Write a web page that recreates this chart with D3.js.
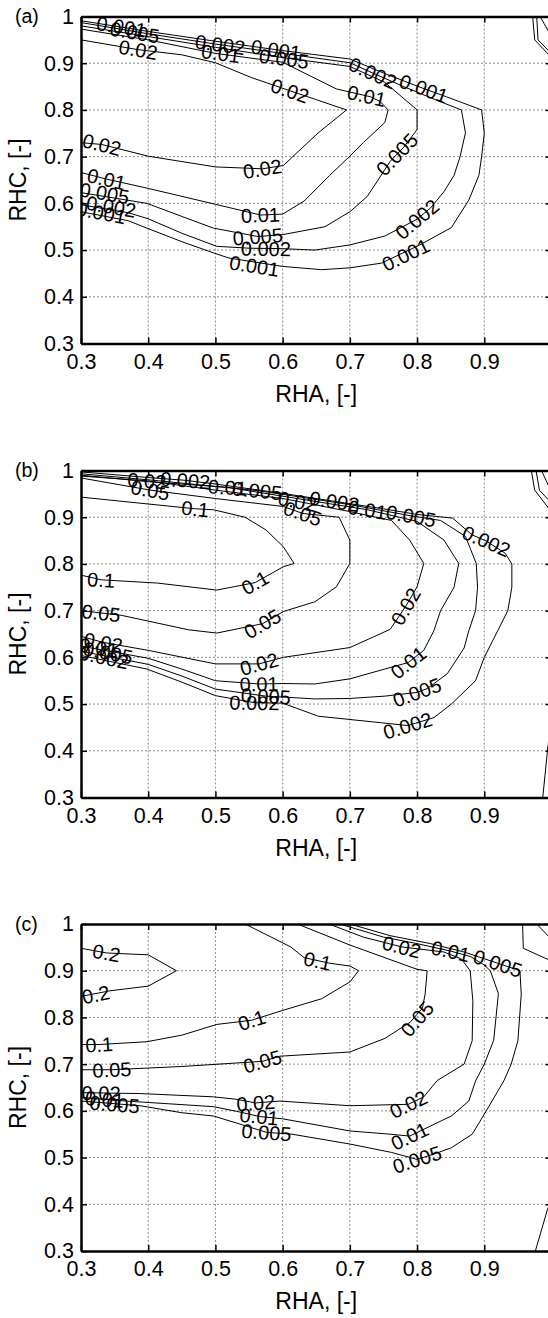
<!DOCTYPE html>
<html>
<head>
<meta charset="utf-8">
<script src="https://cdn.jsdelivr.net/npm/d3@7"></script>
<style>
  body { margin: 0; background: #fff; }
  text { font-family: Arial, "Liberation Sans", sans-serif; fill: #000; }
  .grid line { stroke: #8c8c8c; stroke-width: 1; stroke-dasharray: 2,2; }
  .contour { fill: none; stroke: #000; stroke-width: 1; }
  .clab { font-size: 20px; }
</style>
</head>
<body>
<svg id="svg"></svg>
<script>

// axis setup shared by all three panels (the tick at 1 sits on the cut right edge, so no label there)
const xTicks = [0.3, 0.4, 0.5, 0.6, 0.7, 0.8, 0.9, 1];
const xTickLabels = ["0.3", "0.4", "0.5", "0.6", "0.7", "0.8", "0.9", ""];
const yTicks = [0.3, 0.4, 0.5, 0.6, 0.7, 0.8, 0.9, 1];
const yTickLabels = ["0.3", "0.4", "0.5", "0.6", "0.7", "0.8", "0.9", "1"];
const panelTags = ["(a)", "(b)", "(c)"];
const xTitle = "RHA, [-]";
const yTitle = "RHC, [-]";

// ---- panel (a) : contour lines [RHA, RHC] and label spots
const contoursA = [
  { level: "0.001", pts: [[0.3,0.991],[0.4,0.968],[0.5,0.947],[0.6,0.927],[0.7,0.909],[0.75,0.879],[0.8,0.851],[0.844,0.828],[0.896,0.8],[0.9,0.75],[0.896,0.7],[0.892,0.66],[0.877,0.607],[0.851,0.548],[0.804,0.511],[0.747,0.472],[0.7,0.462],[0.658,0.458],[0.6,0.465],[0.52,0.483],[0.497,0.494],[0.45,0.518],[0.398,0.547],[0.37,0.563],[0.3,0.582]] },
  { level: "0.002", pts: [[0.3,0.987],[0.4,0.963],[0.5,0.941],[0.6,0.921],[0.7,0.901],[0.734,0.879],[0.78,0.85],[0.834,0.818],[0.866,0.8],[0.872,0.751],[0.864,0.7],[0.855,0.66],[0.84,0.625],[0.82,0.59],[0.8,0.566],[0.752,0.53],[0.7,0.511],[0.648,0.5],[0.6,0.503],[0.55,0.504],[0.502,0.508],[0.45,0.536],[0.4,0.567],[0.37,0.58],[0.3,0.597]] },
  { level: "0.005", pts: [[0.3,0.98],[0.4,0.957],[0.5,0.934],[0.6,0.912],[0.7,0.893],[0.752,0.859],[0.8,0.8],[0.8,0.758],[0.78,0.72],[0.76,0.69],[0.742,0.65],[0.726,0.615],[0.7,0.582],[0.663,0.55],[0.6,0.533],[0.563,0.529],[0.497,0.547],[0.45,0.572],[0.398,0.6],[0.3,0.623]] },
  { level: "0.01", pts: [[0.3,0.973],[0.4,0.95],[0.5,0.921],[0.6,0.902],[0.68,0.845],[0.731,0.828],[0.745,0.818],[0.757,0.8],[0.752,0.773],[0.72,0.73],[0.7,0.701],[0.67,0.66],[0.632,0.605],[0.6,0.577],[0.567,0.575],[0.5,0.598],[0.4,0.632],[0.338,0.652],[0.3,0.666]] },
  { level: "0.02", pts: [[0.3,0.95],[0.385,0.929],[0.45,0.918],[0.5,0.901],[0.554,0.869],[0.611,0.841],[0.65,0.822],[0.695,0.8],[0.653,0.751],[0.601,0.681],[0.57,0.674],[0.5,0.678],[0.4,0.701],[0.331,0.726],[0.3,0.73]] },
  { level: "0.001", pts: [[0.972,1.0],[0.975,0.95],[0.998,0.915]] },
  { level: "0.002", pts: [[0.978,1.0],[0.98,0.95],[0.998,0.923]] },
  { level: "0.005", pts: [[0.983,1.0],[0.998,0.962]] }
];
const labelsA = [
  ["0.001", 0.36, 0.978], ["0.005", 0.38, 0.966], ["0.02", 0.385, 0.929],
  ["0.002", 0.507, 0.94], ["0.01", 0.508, 0.921], ["0.001", 0.59, 0.929], ["0.005", 0.602, 0.91],
  ["0.02", 0.611, 0.841], ["0.002", 0.734, 0.879], ["0.01", 0.725, 0.83], ["0.001", 0.81, 0.846],
  ["0.005", 0.77, 0.705], ["0.02", 0.57, 0.674], ["0.02", 0.331, 0.726],
  ["0.01", 0.338, 0.652], ["0.005", 0.335, 0.622], ["0.002", 0.345, 0.593], ["0.001", 0.33, 0.58],
  ["0.01", 0.567, 0.575], ["0.005", 0.563, 0.529], ["0.002", 0.575, 0.503], ["0.001", 0.558, 0.466],
  ["0.002", 0.8, 0.566], ["0.001", 0.783, 0.49]
];

// ---- panel (b)
const contoursB = [
  { level: "0.002", pts: [[0.3,0.997],[0.4,0.985],[0.455,0.979],[0.5,0.971],[0.6,0.951],[0.677,0.934],[0.75,0.918],[0.8,0.906],[0.853,0.898],[0.882,0.862],[0.903,0.849],[0.931,0.823],[0.941,0.8],[0.941,0.75],[0.935,0.7],[0.92,0.657],[0.9,0.6],[0.887,0.55],[0.851,0.5],[0.825,0.471],[0.786,0.454],[0.747,0.46],[0.7,0.467],[0.653,0.474],[0.6,0.502],[0.558,0.503],[0.5,0.518],[0.45,0.547],[0.398,0.575],[0.3,0.604]] },
  { level: "0.005", pts: [[0.3,0.993],[0.4,0.98],[0.5,0.966],[0.562,0.957],[0.6,0.949],[0.7,0.927],[0.791,0.903],[0.835,0.893],[0.872,0.859],[0.888,0.801],[0.89,0.75],[0.887,0.7],[0.877,0.657],[0.87,0.62],[0.845,0.565],[0.815,0.533],[0.8,0.525],[0.752,0.517],[0.7,0.512],[0.648,0.511],[0.601,0.515],[0.575,0.517],[0.5,0.532],[0.45,0.56],[0.4,0.585],[0.3,0.613]] },
  { level: "0.01", pts: [[0.3,0.99],[0.4,0.976],[0.518,0.964],[0.6,0.945],[0.7,0.922],[0.726,0.916],[0.8,0.891],[0.84,0.851],[0.862,0.801],[0.855,0.75],[0.835,0.7],[0.825,0.657],[0.81,0.615],[0.787,0.589],[0.752,0.575],[0.7,0.554],[0.648,0.543],[0.6,0.544],[0.565,0.543],[0.5,0.55],[0.45,0.575],[0.4,0.598],[0.3,0.624]] },
  { level: "0.02", pts: [[0.3,0.988],[0.398,0.978],[0.5,0.958],[0.6,0.94],[0.622,0.934],[0.7,0.912],[0.762,0.893],[0.789,0.851],[0.81,0.801],[0.8,0.751],[0.783,0.709],[0.76,0.66],[0.7,0.621],[0.601,0.6],[0.565,0.586],[0.5,0.586],[0.4,0.615],[0.333,0.632],[0.3,0.645]] },
  { level: "0.05", pts: [[0.3,0.984],[0.403,0.958],[0.5,0.94],[0.601,0.923],[0.63,0.908],[0.684,0.9],[0.7,0.851],[0.7,0.801],[0.68,0.751],[0.648,0.719],[0.601,0.698],[0.57,0.672],[0.502,0.652],[0.46,0.659],[0.36,0.69],[0.3,0.7]] },
  { level: "0.1", pts: [[0.3,0.943],[0.47,0.918],[0.497,0.916],[0.544,0.9],[0.575,0.873],[0.601,0.837],[0.617,0.801],[0.601,0.794],[0.559,0.76],[0.502,0.744],[0.414,0.759],[0.33,0.766],[0.3,0.776]] },
  { level: "0.001", pts: [[0.97,1.0],[0.975,0.958],[0.998,0.915]] },
  { level: "0.002", pts: [[0.977,1.0],[0.982,0.958],[0.998,0.933]] },
  { level: "0.005", pts: [[0.985,1.0],[0.998,0.96]] },
  { level: "0.001", pts: [[0.998,0.45],[0.994,0.4],[0.987,0.3]] }
];
const labelsB = [
  ["0.02", 0.398, 0.978], ["0.002", 0.455, 0.979], ["0.05", 0.403, 0.958], ["0.01", 0.518, 0.964], ["0.005", 0.562, 0.957],
  ["0.1", 0.47, 0.918], ["0.02", 0.622, 0.934], ["0.002", 0.677, 0.934], ["0.05", 0.63, 0.908],
  ["0.01", 0.726, 0.916], ["0.005", 0.791, 0.903], ["0.002", 0.903, 0.849],
  ["0.1", 0.33, 0.766], ["0.1", 0.559, 0.76], ["0.05", 0.33, 0.695], ["0.05", 0.57, 0.672],
  ["0.02", 0.783, 0.709], ["0.02", 0.333, 0.632], ["0.02", 0.565, 0.586],
  ["0.01", 0.326, 0.621], ["0.005", 0.34, 0.61], ["0.002", 0.334, 0.6],
  ["0.01", 0.787, 0.589], ["0.01", 0.565, 0.543], ["0.005", 0.8, 0.525], ["0.005", 0.575, 0.517],
  ["0.002", 0.558, 0.503], ["0.002", 0.786, 0.454]
];

// ---- panel (c)
const contoursC = [
  { level: "0.2", pts: [[0.3,0.948],[0.338,0.938],[0.4,0.934],[0.442,0.9],[0.4,0.867],[0.343,0.857],[0.3,0.845]] },
  { level: "0.1", pts: [[0.544,1.0],[0.612,0.951],[0.632,0.928],[0.67,0.916],[0.7,0.91],[0.713,0.9],[0.7,0.876],[0.658,0.84],[0.6,0.815],[0.554,0.794],[0.502,0.785],[0.45,0.762],[0.398,0.748],[0.327,0.742],[0.3,0.742]] },
  { level: "0.05", pts: [[0.622,1.0],[0.7,0.955],[0.8,0.903],[0.815,0.9],[0.812,0.85],[0.808,0.82],[0.79,0.79],[0.752,0.755],[0.7,0.726],[0.596,0.717],[0.57,0.706],[0.45,0.695],[0.346,0.688],[0.3,0.688]] },
  { level: "0.02", pts: [[0.669,1.0],[0.72,0.972],[0.777,0.951],[0.84,0.94],[0.866,0.925],[0.879,0.9],[0.883,0.836],[0.882,0.75],[0.87,0.7],[0.83,0.665],[0.81,0.63],[0.787,0.614],[0.7,0.611],[0.596,0.621],[0.56,0.617],[0.53,0.625],[0.497,0.63],[0.388,0.637],[0.3,0.639]] },
  { level: "0.01", pts: [[0.685,1.0],[0.75,0.972],[0.8,0.958],[0.85,0.942],[0.88,0.93],[0.9,0.912],[0.909,0.9],[0.921,0.851],[0.914,0.751],[0.9,0.7],[0.887,0.664],[0.877,0.621],[0.851,0.589],[0.789,0.546],[0.76,0.55],[0.7,0.557],[0.6,0.583],[0.565,0.588],[0.538,0.597],[0.497,0.609],[0.367,0.621],[0.3,0.629]] },
  { level: "0.005", pts: [[0.7,1.0],[0.76,0.975],[0.82,0.958],[0.87,0.94],[0.92,0.916],[0.953,0.9],[0.955,0.85],[0.95,0.75],[0.94,0.7],[0.929,0.664],[0.903,0.6],[0.882,0.55],[0.851,0.521],[0.83,0.51],[0.8,0.496],[0.762,0.511],[0.7,0.529],[0.614,0.55],[0.576,0.554],[0.538,0.571],[0.497,0.589],[0.45,0.596],[0.388,0.611],[0.3,0.621]] },
  { level: "0.002", pts: [[0.957,1.0],[0.958,0.948],[0.998,0.922]] },
  { level: "0.001", pts: [[0.978,1.0],[0.998,0.97]] },
  { level: "0.002", pts: [[1.0,0.41],[0.994,0.389],[0.976,0.3]] }
];
const labelsC = [
  ["0.2", 0.338, 0.938], ["0.2", 0.322, 0.849], ["0.1", 0.652, 0.921], ["0.1", 0.554, 0.794], ["0.1", 0.327, 0.742],
  ["0.05", 0.8, 0.797], ["0.05", 0.57, 0.706], ["0.05", 0.346, 0.688],
  ["0.02", 0.777, 0.951], ["0.01", 0.85, 0.942], ["0.005", 0.92, 0.916],
  ["0.02", 0.787, 0.614], ["0.02", 0.56, 0.617], ["0.02", 0.33, 0.638],
  ["0.01", 0.789, 0.546], ["0.01", 0.565, 0.588], ["0.01", 0.335, 0.625],
  ["0.005", 0.8, 0.496], ["0.005", 0.576, 0.554], ["0.005", 0.35, 0.614]
];

const panels = [
  { contours: contoursA, labels: labelsA },
  { contours: contoursB, labels: labelsB },
  { contours: contoursC, labels: labelsC }
];

// layout
const W = 548, H = 1318;
const plotLeft = 81, plotRight = 551.5, plotH = 327;
const panelTops = [16.5, 470.5, 924];

const svg = d3.select("#svg").attr("width", W).attr("height", H);
svg.append("rect").attr("width", W).attr("height", H).attr("fill", "#fff");

const x = d3.scaleLinear().domain([0.3, 1]).range([plotLeft, plotRight]);
const y = d3.scaleLinear().domain([0.3, 1]).range([plotH, 0]);

const line = d3.line().x(d => x(d[0])).y(d => y(d[1]));

// angle (deg) of the closest segment of a line with this level, kept readable
function labelAngle(contours, lab) {
  let px = x(lab[1]), py = y(lab[2]);
  let best = Infinity, ang = 0;
  contours.filter(c => c.level === lab[0]).forEach(c => {
    for (let i = 0; i < c.pts.length - 1; i++) {
      let ax = x(c.pts[i][0]), ay = y(c.pts[i][1]);
      let bx = x(c.pts[i+1][0]), by = y(c.pts[i+1][1]);
      let dx = bx - ax, dy = by - ay;
      let t = ((px - ax) * dx + (py - ay) * dy) / (dx * dx + dy * dy);
      t = Math.max(0, Math.min(1, t));
      let qx = ax + t * dx - px, qy = ay + t * dy - py;
      let dist = qx * qx + qy * qy;
      if (dist < best) { best = dist; ang = Math.atan2(dy, dx) * 180 / Math.PI; }
    }
  });
  if (ang > 90) ang -= 180;
  if (ang < -90) ang += 180;
  return ang;
}

function drawPanel(i) {
  const p = panels[i];
  const g = svg.append("g").attr("transform", "translate(0," + panelTops[i] + ")");

  g.append("clipPath").attr("id", "clip" + i)
    .append("rect").attr("x", plotLeft).attr("y", 0)
    .attr("width", plotRight - plotLeft).attr("height", plotH);

  // dotted grid
  const grid = g.append("g").attr("class", "grid");
  grid.selectAll(".gx").data(xTicks.slice(1, -1)).enter().append("line")
    .attr("x1", d => x(d)).attr("x2", d => x(d))
    .attr("y1", 0).attr("y2", plotH);
  grid.selectAll(".gy").data(yTicks.slice(1, -1)).enter().append("line")
    .attr("x1", plotLeft).attr("x2", plotRight)
    .attr("y1", d => y(d)).attr("y2", d => y(d));

  const body = g.append("g").attr("clip-path", "url(#clip" + i + ")");
  body.selectAll(".contour").data(p.contours).enter().append("path")
    .attr("class", "contour")
    .attr("d", d => line(d.pts));

  body.selectAll(".clab").data(p.labels).enter().append("text")
    .attr("class", "clab")
    .attr("text-anchor", "middle")
    .attr("dy", "0.36em")
    .attr("transform", d => "translate(" + x(d[1]) + "," + y(d[2]) + ") rotate(" + labelAngle(p.contours, d) + ")")
    .text(d => d[0]);

  // axes, ticks pointing inwards
  const axB = g.append("g").attr("transform", "translate(0," + plotH + ")")
    .call(d3.axisBottom(x).tickValues(xTicks).tickFormat((d, k) => xTickLabels[k])
      .tickSizeInner(-6).tickSizeOuter(0).tickPadding(10));
  const axL = g.append("g").attr("transform", "translate(" + plotLeft + ",0)")
    .call(d3.axisLeft(y).tickValues(yTicks).tickFormat((d, k) => yTickLabels[k])
      .tickSizeInner(-6).tickSizeOuter(0).tickPadding(7));
  const axT = g.append("g")
    .call(d3.axisTop(x).tickValues(xTicks).tickFormat("").tickSizeInner(-6).tickSizeOuter(0));
  const axR = g.append("g").attr("transform", "translate(" + plotRight + ",0)")
    .call(d3.axisRight(y).tickValues(yTicks).tickFormat("").tickSizeInner(-6).tickSizeOuter(0));

  [axB, axL, axT, axR].forEach(a => {
    a.attr("font-family", null).attr("font-size", null);
    a.select(".domain").attr("stroke-width", 2.5).attr("stroke", "#000");
    a.selectAll(".tick line").attr("stroke-width", 1.5).attr("stroke", "#000");
    a.selectAll("text").style("font-size", "21.5px");
  });

  g.append("text")
    .attr("x", (plotLeft + plotRight) / 2).attr("y", plotH + 58)
    .attr("text-anchor", "middle").style("font-size", "23px")
    .text(xTitle);

  g.append("text")
    .attr("transform", "translate(26," + plotH / 2 + ") rotate(-90)")
    .attr("text-anchor", "middle").style("font-size", "23px")
    .text(yTitle);

  g.append("text")
    .attr("x", 15).attr("y", 6.5)
    .style("font-size", "19.5px")
    .text(panelTags[i]);
}

panels.forEach((p, i) => drawPanel(i));

</script>
</body>
</html>
